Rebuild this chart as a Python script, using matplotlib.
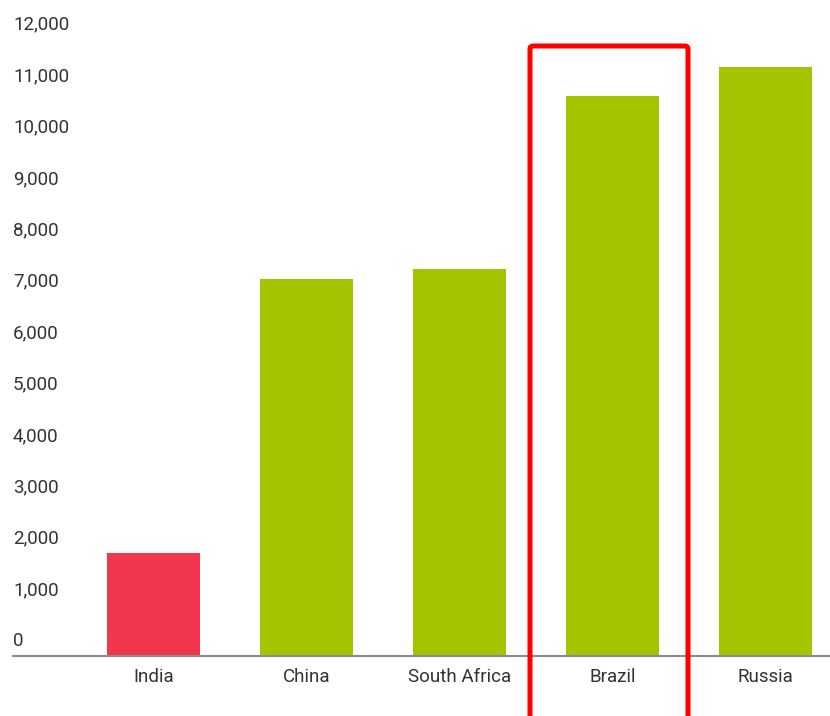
import matplotlib
matplotlib.use("Agg")
import matplotlib.pyplot as plt
import matplotlib.transforms as mtransforms
from matplotlib.patches import FancyBboxPatch

plt.rcParams["font.family"] = ["Roboto", "DejaVu Sans"]

countries = ["India", "China", "South Africa", "Brazil", "Russia"]
values = [2000, 7330, 7530, 10900, 11460]
bar_colors = ["#f2364d", "#a4c400", "#a4c400", "#a4c400", "#a4c400"]
y_ticks = list(range(0, 12001, 1000))
y_tick_labels = [f"{v:,}" for v in y_ticks]

W, H, DPI = 830, 716, 100
fig = plt.figure(figsize=(W / DPI, H / DPI), dpi=DPI)
ax = fig.add_axes([13 / W, 1 - 656 / H, 1 - 13 / W, 656 / H])

x = list(range(len(countries)))
ax.bar(x, values, width=0.61, color=bar_colors, zorder=2)
ax.set_xlim(-0.92, 4.42)
ax.set_ylim(0, 12763)

for s in ["top", "right", "left"]:
    ax.spines[s].set_visible(False)
ax.spines["bottom"].set_color("#8c8c8c")
ax.spines["bottom"].set_linewidth(1.5)

ax.set_yticks([])
ax.set_xticks(x)
ax.set_xticklabels(countries, fontsize=13.5, color="#333333")
ax.tick_params(axis="x", length=0, pad=9)

# y labels sit a little above their value line
trans = mtransforms.offset_copy(ax.get_yaxis_transform(), fig=fig, x=0, y=14.5, units="dots")
for v, lab in zip(y_ticks, y_tick_labels):
    ax.text(0, v, lab, transform=trans, ha="left", va="center",
            fontsize=13.5, color="#333333")

# red highlight box around Brazil
box = FancyBboxPatch((530 / W, -0.05), 158 / W, 1.05 - 46 / H,
                     boxstyle="round,pad=0,rounding_size=0.004",
                     transform=fig.transFigure, fill=False,
                     edgecolor="#ff0000", linewidth=3.6, zorder=5)
fig.patches.append(box)

fig.savefig("out.png", dpi=DPI)
